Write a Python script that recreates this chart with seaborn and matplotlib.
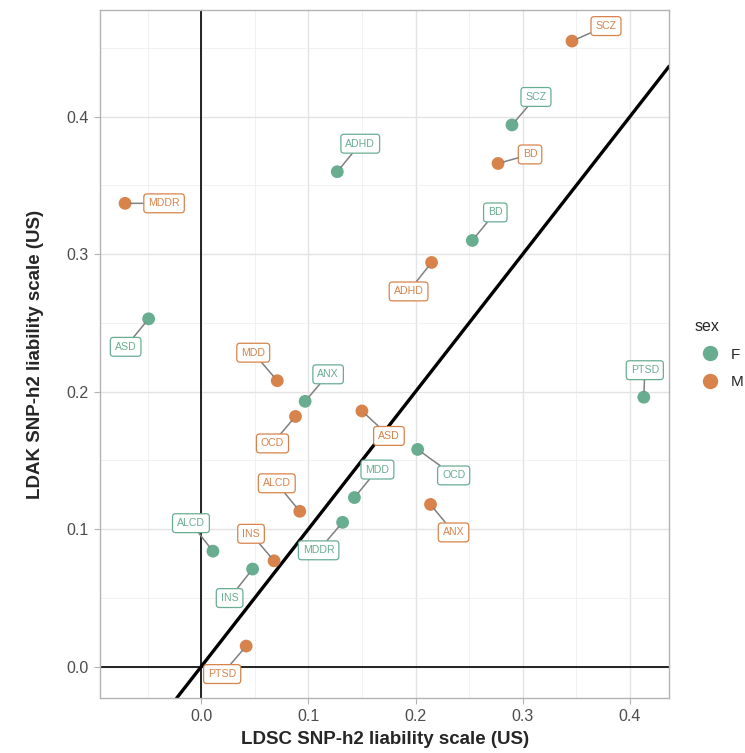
import matplotlib
matplotlib.use('Agg')
import pandas as pd
import seaborn as sns
from matplotlib import pyplot as plt
from matplotlib.ticker import MultipleLocator

traits = ['ADHD', 'ALCD', 'ANX', 'ASD', 'BD', 'INS', 'MDD', 'MDDR', 'OCD', 'PTSD', 'SCZ']

# SNP-h2 estimates
female_ldsc = [0.127, 0.011, 0.097, -0.049, 0.253, 0.048, 0.143, 0.132, 0.202, 0.413, 0.290]
female_ldak = [0.360, 0.084, 0.193, 0.253, 0.310, 0.071, 0.123, 0.105, 0.158, 0.196, 0.394]
male_ldsc = [0.215, 0.092, 0.214, 0.150, 0.277, 0.068, 0.071, -0.071, 0.088, 0.042, 0.346]
male_ldak = [0.294, 0.113, 0.118, 0.186, 0.366, 0.077, 0.208, 0.337, 0.182, 0.015, 0.455]

# where the repelled labels sit, in pixels from their point
label_offsets = {
    ('F', 'ADHD'): (23, 28), ('F', 'ALCD'): (-22, 28), ('F', 'ANX'): (23, 27),
    ('F', 'ASD'): (-23, -28), ('F', 'BD'): (23, 28), ('F', 'INS'): (-23, -29),
    ('F', 'MDD'): (23, 28), ('F', 'MDDR'): (-24, -28), ('F', 'OCD'): (36, -26),
    ('F', 'PTSD'): (1, 27), ('F', 'SCZ'): (24, 28),
    ('M', 'ADHD'): (-23, -29), ('M', 'ALCD'): (-23, 28), ('M', 'ANX'): (23, -28),
    ('M', 'ASD'): (27, -25), ('M', 'BD'): (32, 9), ('M', 'INS'): (-23, 27),
    ('M', 'MDD'): (-24, 28), ('M', 'MDDR'): (39, 0), ('M', 'OCD'): (-23, -27),
    ('M', 'PTSD'): (-24, -28), ('M', 'SCZ'): (34, 15),
}

colors = {'F': '#69AD91', 'M': '#D7834B'}

df = pd.concat([
    pd.DataFrame({'trait': traits, 'ldsc': female_ldsc, 'ldak': female_ldak, 'sex': 'F'}),
    pd.DataFrame({'trait': traits, 'ldsc': male_ldsc, 'ldak': male_ldak, 'sex': 'M'}),
])

sns.set_style('white')
plt.rcParams['font.family'] = ['Liberation Sans', 'DejaVu Sans']

fig = plt.figure(figsize=(7.45, 7.53), dpi=100)
ax = fig.add_axes([0.1342, 0.0730, 0.7642, 0.9137])

ax.set_xlim(-0.0944, 0.4368)
ax.set_ylim(-0.0228, 0.4776)
ax.xaxis.set_major_locator(MultipleLocator(0.1))
ax.xaxis.set_minor_locator(MultipleLocator(0.05))
ax.yaxis.set_major_locator(MultipleLocator(0.1))
ax.yaxis.set_minor_locator(MultipleLocator(0.05))
ax.grid(which='major', color='#E3E3E3', linewidth=1.0, zorder=0)
ax.grid(which='minor', color='#EFEFEF', linewidth=0.6, zorder=0)
ax.set_axisbelow(True)

ax.axvline(0, color='black', linewidth=1.2, zorder=1)
ax.axhline(0, color='black', linewidth=1.2, zorder=1)
ax.axline((0, 0), slope=1, color='black', linewidth=2.4, zorder=1)

sns.scatterplot(data=df, x='ldsc', y='ldak', hue='sex', palette=colors, s=85,
                linewidth=0, ax=ax, zorder=3)

for _, row in df.iterrows():
    c = colors[row.sex]
    ax.annotate(
        row.trait, (row.ldsc, row.ldak),
        xytext=label_offsets[(row.sex, row.trait)], textcoords='offset pixels',
        ha='center', va='center', fontsize=7.6, color=c, zorder=4,
        bbox=dict(boxstyle='round,pad=0.42,rounding_size=0.3', fc='white', ec=c, lw=0.9),
        arrowprops=dict(arrowstyle='-', color='#808080', lw=1.1, shrinkA=0, shrinkB=4),
    )

for s in ax.spines.values():
    s.set_color('#B3B3B3')
    s.set_linewidth(1.0)
ax.tick_params(which='major', length=4, width=0.8, color='#B3B3B3', pad=4,
               labelsize=11.5, labelcolor='#4D4D4D', left=True, bottom=True)
ax.tick_params(which='minor', length=0)

ax.set_xlabel('LDSC SNP-h2 liability scale (US)', fontsize=13.5, fontweight='bold', labelpad=5)
ax.set_ylabel('LDAK SNP-h2 liability scale (US)', fontsize=13.5, fontweight='bold', labelpad=16)

sns.move_legend(ax, 'center left', bbox_to_anchor=(1.02, 0.5), frameon=False,
                title='sex', fontsize=11, title_fontsize=11.5, markerscale=1.2,
                handletextpad=0.4, labelspacing=0.9, alignment='left')

fig.savefig('out.png', dpi=100)
